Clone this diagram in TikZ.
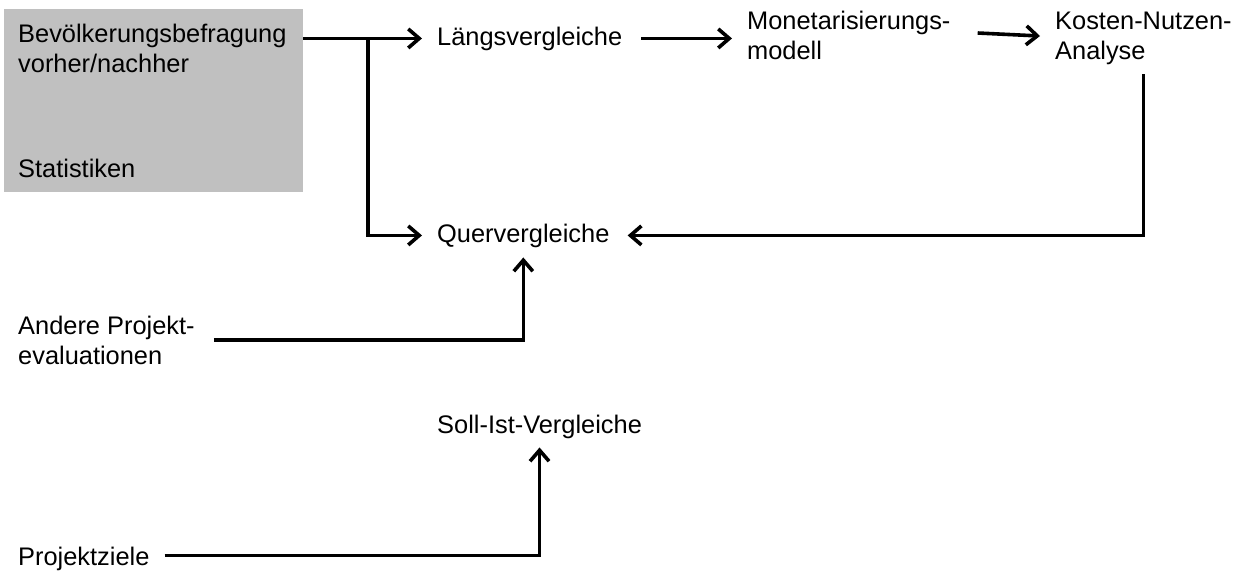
\documentclass[tikz,border=0pt]{standalone}
\usepackage{fontspec}
\setmainfont{Liberation Sans}
\usetikzlibrary{arrows.meta,calc}
\definecolor{boxgray}{HTML}{C0C0C0}
\begin{document}
\begin{tikzpicture}[x=1pt,y=-1pt,
  lbl/.style={inner sep=0pt, anchor=base west, align=left, font=\fontsize{25.4}{29.5}\selectfont},
  conn/.style={line width=3.6pt},
  arr/.style={conn, -{Straight Barb[length=11pt,width=19pt,line width=3.6pt]}}]
\useasboundingbox (0,0) rectangle (1243,574);
% grey box
\node[fill=boxgray, inner sep=0pt, minimum width=299pt, minimum height=183pt] (box) at (153.5,100.5) {};
% labels (base = baseline of the last line)
\node[lbl] (bev) at (18,72) {Bevölkerungsbefragung\\vorher/nachher};
\node[lbl] (stat) at (18,177) {Statistiken};
\node[lbl] (lv) at (437,45) {Längsvergleiche};
\node[lbl] (mon) at (747,59) {Monetarisierungs-\\modell};
\node[lbl] (kn) at (1055,59) {Kosten-Nutzen-\\Analyse};
\node[lbl] (qv) at (437,242) {Quervergleiche};
\node[lbl] (ap) at (18,364) {Andere Projekt-\\evaluationen};
\node[lbl] (sv) at (437,433) {Soll-Ist-Vergleiche};
\node[lbl] (pz) at (18,565) {Projektziele};
% connectors
\path (box.east |- lv.west) ++(65,0) coordinate (split);
\draw[arr] (box.east |- lv.west) -- ([xshift=-15pt]lv.west);
\draw[arr] (split) |- ([xshift=-15pt]qv.west);
\draw[arr] ([xshift=19pt]lv.east) -- ([xshift=-15pt]lv.east -| mon.west);
\draw[arr] ([xshift=27pt]mon.east |- 0,33) -- ([xshift=-15pt]kn.west |- 0,36);
\draw[arr] ([yshift=-10pt]kn.south) |- ([xshift=18pt]qv.east);
\draw[arr] ([xshift=19pt]ap.east |- 0,340) -| ([yshift=-10pt]qv.south);
\draw[arr] ([xshift=15pt,yshift=3pt]pz.east) -| ([yshift=-9pt]sv.south);
\end{tikzpicture}
\end{document}
